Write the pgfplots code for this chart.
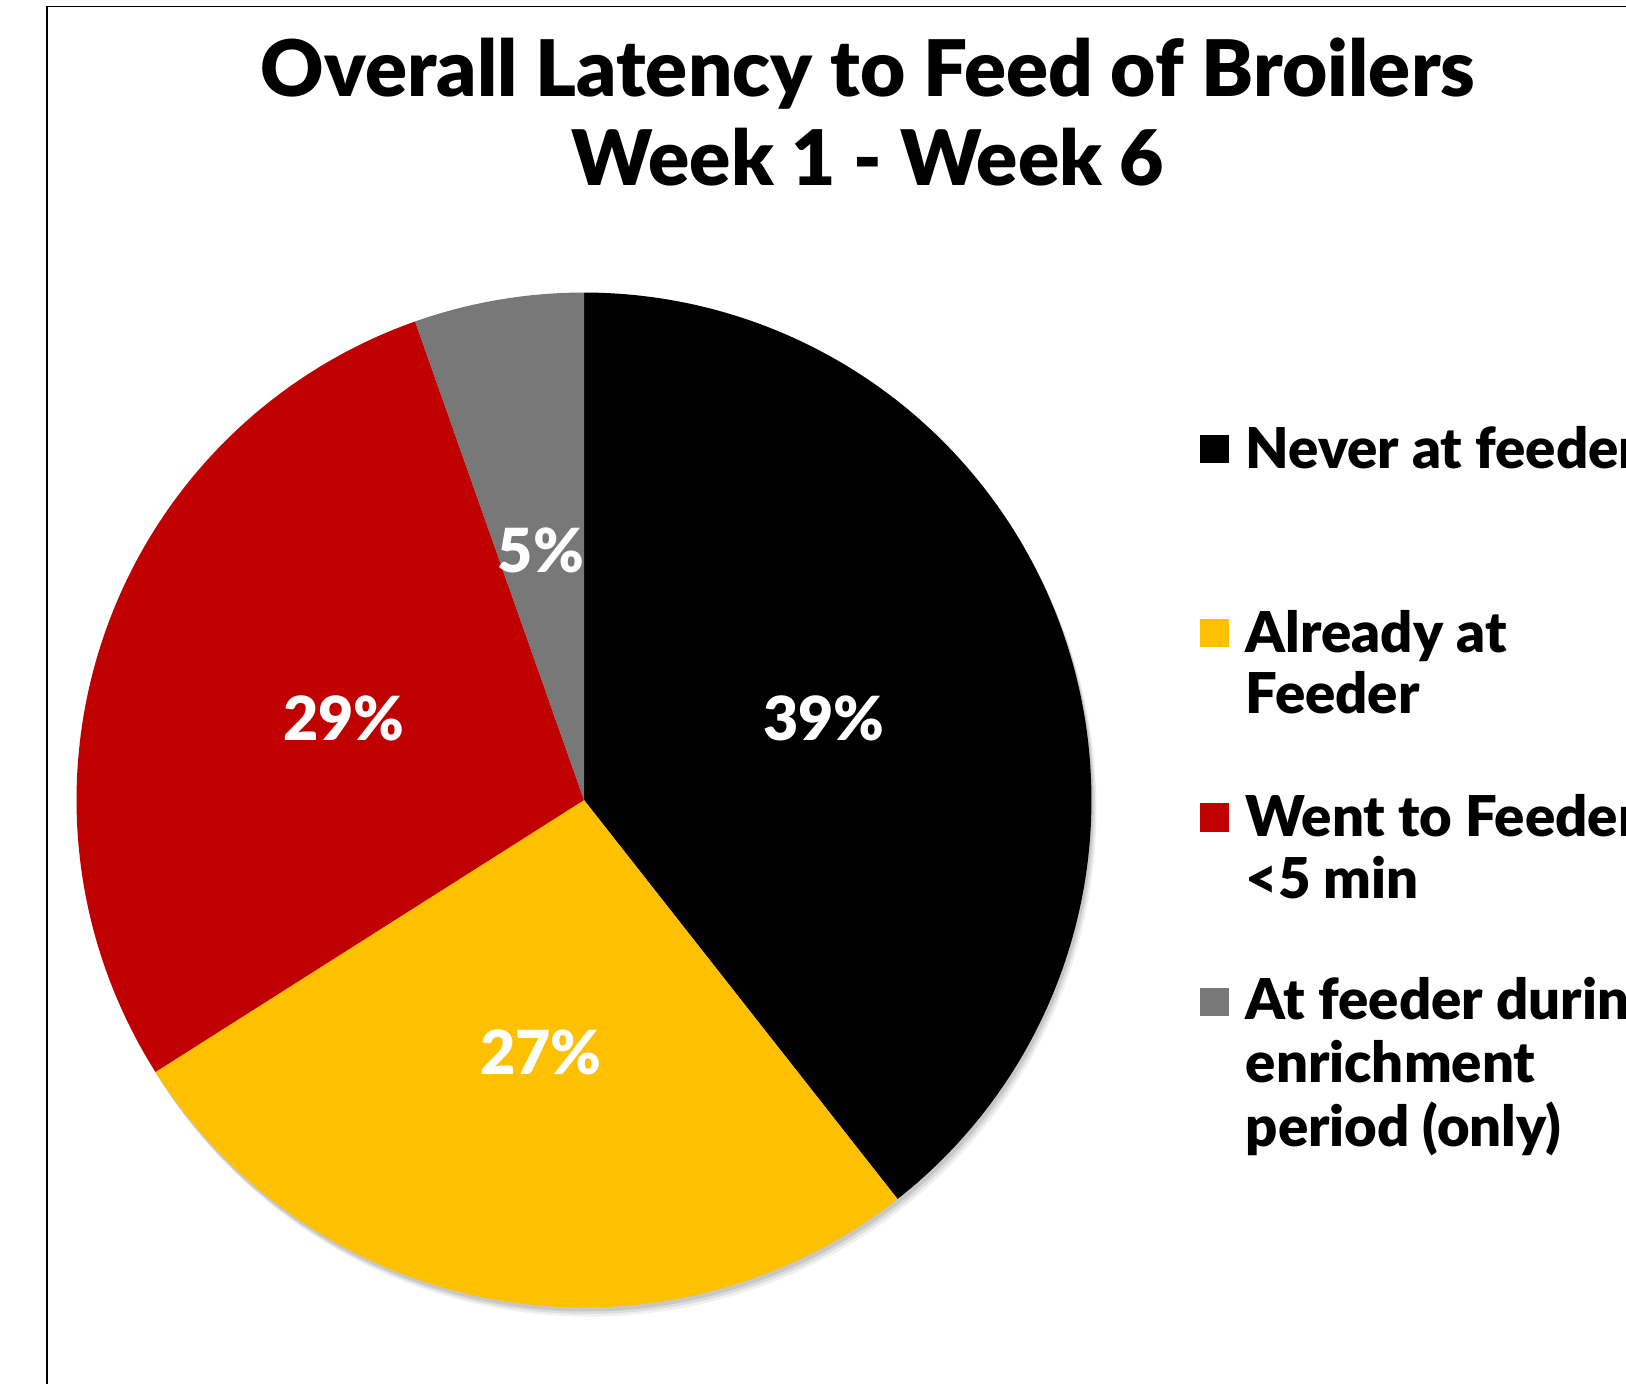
\documentclass[border=0pt]{standalone}
\usepackage{pgfplots}
\pgfplotsset{compat=1.18}
\usepackage{fontspec}
\setmainfont{Lato}[BoldFont={Lato Black}]
\definecolor{cBlack}{HTML}{000000}
\definecolor{cYellow}{HTML}{FFC000}
\definecolor{cRed}{HTML}{C00000}
\definecolor{cGray}{HTML}{787878}
% data (percent)
\def\vA{39.4}% Never at feeder
\def\vB{26.6}% Already at Feeder
\def\vC{28.6}% Went to Feeder <5 min
\def\vD{5.4}%  At feeder during enrichment period (only)
\begin{document}
\begin{tikzpicture}[x=0.1mm,y=-0.1mm]
\useasboundingbox (0,0) rectangle (1626,1384);
\clip (0,0) rectangle (1626,1384);
\draw[line width=0.16mm] (47,1500) -- (47,6.5) -- (1800,6.5);
\node[anchor=base, inner sep=0pt, font=\bfseries\fontsize{22.2pt}{24pt}\selectfont] at (868,96.5) {Overall Latency to Feed of Broilers};
\node[anchor=base, inner sep=0pt, font=\bfseries\fontsize{21.8pt}{24pt}\selectfont] at (868,185) {Week 1 - Week 6};
\coordinate (C) at (584,800);
\pgfmathsetmacro\eA{90-3.6*\vA}
\pgfmathsetmacro\eB{\eA-3.6*\vB}
\pgfmathsetmacro\eC{\eB-3.6*\vC}
\pgfmathsetmacro\eD{\eC-3.6*\vD}
\begin{axis}[at={(C)}, anchor=center, width=101.5mm, height=101.5mm, scale only axis,
  xmin=-1, xmax=1, ymin=-1, ymax=1, hide axis, clip=false]
% soft shadow
\addplot[forget plot, fill=black, fill opacity=0.10, draw=none, domain=0:360, samples=180] ({cos(x)+0.004},{sin(x)-0.008}) -- cycle;
\addplot[forget plot, fill=black, fill opacity=0.08, draw=none, domain=0:360, samples=180] ({cos(x)+0.007},{sin(x)-0.013}) -- cycle;
\addplot[forget plot, fill=black, fill opacity=0.06, draw=none, domain=0:360, samples=180] ({cos(x)+0.010},{sin(x)-0.018}) -- cycle;
% wedges
\addplot[fill=cBlack, draw=none, domain=\eA:90, samples=150] ({cos(x)},{sin(x)}) -- (axis cs:0,0) -- cycle;
\addplot[fill=cYellow, draw=none, domain=\eB:\eA, samples=120] ({cos(x)},{sin(x)}) -- (axis cs:0,0) -- cycle;
\addplot[fill=cRed, draw=none, domain=\eC:\eB, samples=120] ({cos(x)},{sin(x)}) -- (axis cs:0,0) -- cycle;
\addplot[fill=cGray, draw=none, domain=\eD:\eC, samples=40] ({cos(x)},{sin(x)}) -- (axis cs:0,0) -- cycle;
% legend keys
\addplot[forget plot, fill=cBlack, draw=none] coordinates {(1.2138,0.7192) (1.2709,0.7192) (1.2709,0.6640) (1.2138,0.6640)} -- cycle;
\addplot[forget plot, fill=cYellow, draw=none] coordinates {(1.2138,0.3567) (1.2709,0.3567) (1.2709,0.3015) (1.2138,0.3015)} -- cycle;
\addplot[forget plot, fill=cRed, draw=none] coordinates {(1.2138,-0.0059) (1.2709,-0.0059) (1.2709,-0.0631) (1.2138,-0.0631)} -- cycle;
\addplot[forget plot, fill=cGray, draw=none] coordinates {(1.2138,-0.3704) (1.2709,-0.3704) (1.2709,-0.4256) (1.2138,-0.4256)} -- cycle;
% data labels
\node[white, font=\bfseries\fontsize{17.3pt}{20pt}\selectfont, inner sep=0pt] at (axis cs:0.473,0.160) {39\%};
\node[white, font=\bfseries\fontsize{17.3pt}{20pt}\selectfont, inner sep=0pt] at (axis cs:-0.085,-0.498) {27\%};
\node[white, font=\bfseries\fontsize{17.3pt}{20pt}\selectfont, inner sep=0pt] at (axis cs:-0.473,0.160) {29\%};
\node[white, font=\bfseries\fontsize{17.3pt}{20pt}\selectfont, inner sep=0pt] at (axis cs:-0.085,0.491) {5\%};
\end{axis}
% legend texts
\begin{scope}[every node/.style={anchor=base west, inner sep=0pt, font=\bfseries\fontsize{16pt}{18pt}\selectfont}]
\node at (1245,468) {Never at feeder};
\node at (1245,652) {Already at};
\node at (1245,713.5) {Feeder};
\node at (1245,836) {Went to Feeder};
\node at (1245,898) {<5 min};
\node at (1245,1019.5) {At feeder during};
\node at (1245,1082) {enrichment};
\node at (1245,1146) {period (only)};
\end{scope}
\end{tikzpicture}
\end{document}
